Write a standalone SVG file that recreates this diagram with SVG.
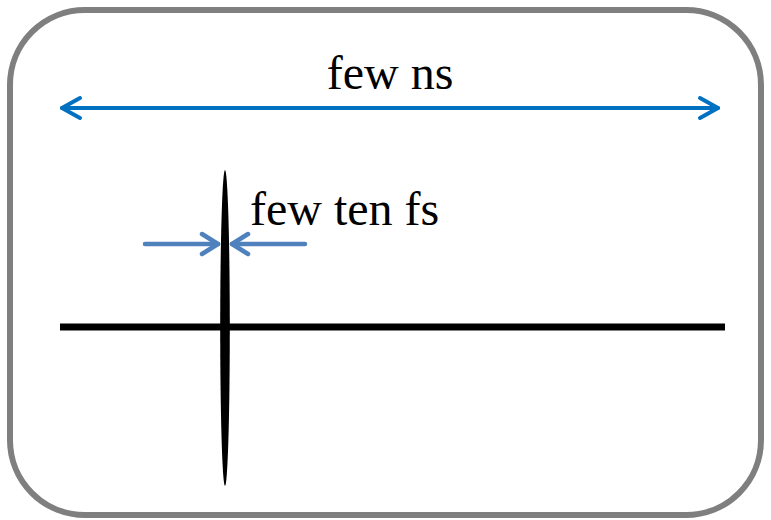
<svg xmlns="http://www.w3.org/2000/svg" width="771" height="520" viewBox="0 0 771 520">
<style>
.lbl{font-family:"Liberation Serif","Times New Roman",serif;font-size:48px;fill:#000}
.big{stroke:#0070C0;stroke-width:4;fill:none;stroke-linecap:round;stroke-linejoin:round}
.small{stroke:#4F81BD;stroke-width:4.5;fill:none;stroke-linecap:round;stroke-linejoin:round}
</style>
<g id="frame"><rect x="10" y="10" width="751" height="505" rx="75" ry="75" fill="#fff" stroke="#7f7f7f" stroke-width="6"/></g>
<g id="connectors">
<line class="big" x1="62" y1="108" x2="718" y2="108"/>
<polyline class="big" points="80,98 62,108 80,118"/>
<polyline class="big" points="700,98 718,108 700,118"/>
<line class="small" x1="145" y1="244" x2="218" y2="244"/>
<polyline class="small" points="202,234 218,244 202,254"/>
<line class="small" x1="232" y1="244" x2="305" y2="244"/>
<polyline class="small" points="248,234 232,244 248,254"/>
</g>
<g id="timeline"><rect x="60" y="323.5" width="665" height="7" fill="#000"/></g>
<g id="pulse"><ellipse cx="225" cy="328" rx="4.8" ry="158" fill="#000"/></g>
<g id="labels">
<text class="lbl" x="390" y="89" text-anchor="middle">few ns</text>
<text class="lbl" x="250" y="225">few ten fs</text>
</g>
</svg>
